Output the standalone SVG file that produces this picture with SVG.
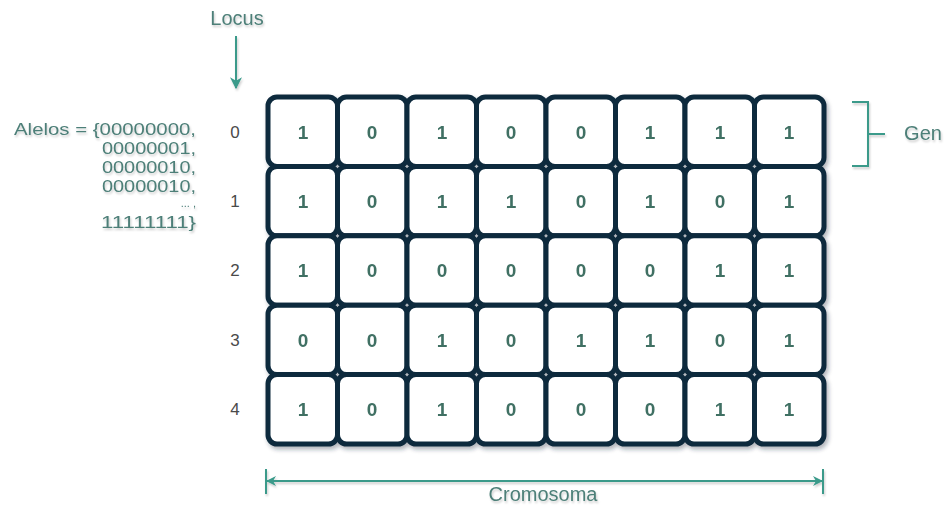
<svg xmlns="http://www.w3.org/2000/svg" width="947" height="505" viewBox="0 0 947 505">
<defs>
<filter id="sh" x="-10%" y="-10%" width="130%" height="130%"><feDropShadow dx="2" dy="3" stdDeviation="2" flood-color="#1a2a3a" flood-opacity="0.35"/></filter>
<filter id="tsh" x="-10%" y="-20%" width="130%" height="150%"><feDropShadow dx="1" dy="2" stdDeviation="1.2" flood-color="#000" flood-opacity="0.2"/></filter>
<marker id="ah" viewBox="0 0 10 10" refX="9" refY="5" markerWidth="10" markerHeight="10" markerUnits="userSpaceOnUse" orient="auto-start-reverse"><path d="M0,0 L10,5 L0,10 L3,5 Z" fill="#3a9a8a"/></marker>
<marker id="ah2" viewBox="0 0 10 10" refX="9" refY="5" markerWidth="12" markerHeight="12" markerUnits="userSpaceOnUse" orient="auto"><path d="M0,0 L10,5 L0,10 L3,5 Z" fill="#3a9a8a"/></marker>
</defs>
<style>
.cell rect{fill:#fff;stroke:#0f2a3d;stroke-width:5}
.cell text{font-family:"Liberation Sans",Arial,sans-serif;font-weight:bold;font-size:19px;fill:#3f6f63;text-anchor:middle}
.idx{font-family:"Liberation Sans",Arial,sans-serif;font-size:17px;fill:#4a4a4a;text-anchor:middle}
.lbl{font-family:"Liberation Sans",Arial,sans-serif;font-size:20px;fill:#4d7f78}
.al{font-size:17px}
.con{stroke:#3a9a8a;stroke-width:2;fill:none}
</style>
<rect width="947" height="505" fill="#fff"/>
<g id="labels" filter="url(#tsh)">
<text class="lbl" x="237" y="25" text-anchor="middle" font-size="19">Locus</text>
<text class="lbl" x="923" y="140" text-anchor="middle">Gen</text>
<text class="lbl" x="543" y="501" text-anchor="middle">Cromosoma</text>
<g id="alelos" class="lbl al" text-anchor="end">
<text x="196" y="135" textLength="182" lengthAdjust="spacingAndGlyphs">Alelos = {00000000,</text>
<text x="196" y="154" textLength="94" lengthAdjust="spacingAndGlyphs">00000001,</text>
<text x="196" y="173" textLength="94" lengthAdjust="spacingAndGlyphs">00000010,</text>
<text x="196" y="192" textLength="94" lengthAdjust="spacingAndGlyphs">00000010,</text>
<text x="196" y="207" font-size="11">... ,</text>
<text x="196" y="228" textLength="95" lengthAdjust="spacingAndGlyphs">11111111}</text>
</g>
</g>
<g id="indices">
<text class="idx" x="235" y="138">0</text>
<text class="idx" x="235" y="207">1</text>
<text class="idx" x="235" y="276">2</text>
<text class="idx" x="235" y="346">3</text>
<text class="idx" x="235" y="415">4</text>
</g>
<g id="grid" filter="url(#sh)">
<g id="r0" class="cell">
<rect x="268" y="97" width="69.5" height="69.4" rx="9"/><rect x="337.5" y="97" width="69.5" height="69.4" rx="9"/><rect x="407" y="97" width="69.5" height="69.4" rx="9"/><rect x="476.5" y="97" width="69.5" height="69.4" rx="9"/><rect x="546" y="97" width="69.5" height="69.4" rx="9"/><rect x="615.5" y="97" width="69.5" height="69.4" rx="9"/><rect x="685" y="97" width="69.5" height="69.4" rx="9"/><rect x="754.5" y="97" width="69.5" height="69.4" rx="9"/>
<text x="303" y="139">1</text><text x="372" y="139">0</text><text x="442" y="139">1</text><text x="511" y="139">0</text><text x="581" y="139">0</text><text x="650" y="139">1</text><text x="720" y="139">1</text><text x="789" y="139">1</text>
</g>
<g id="r1" class="cell">
<rect x="268" y="166.4" width="69.5" height="69.4" rx="9"/><rect x="337.5" y="166.4" width="69.5" height="69.4" rx="9"/><rect x="407" y="166.4" width="69.5" height="69.4" rx="9"/><rect x="476.5" y="166.4" width="69.5" height="69.4" rx="9"/><rect x="546" y="166.4" width="69.5" height="69.4" rx="9"/><rect x="615.5" y="166.4" width="69.5" height="69.4" rx="9"/><rect x="685" y="166.4" width="69.5" height="69.4" rx="9"/><rect x="754.5" y="166.4" width="69.5" height="69.4" rx="9"/>
<text x="303" y="208">1</text><text x="372" y="208">0</text><text x="442" y="208">1</text><text x="511" y="208">1</text><text x="581" y="208">0</text><text x="650" y="208">1</text><text x="720" y="208">0</text><text x="789" y="208">1</text>
</g>
<g id="r2" class="cell">
<rect x="268" y="235.8" width="69.5" height="69.4" rx="9"/><rect x="337.5" y="235.8" width="69.5" height="69.4" rx="9"/><rect x="407" y="235.8" width="69.5" height="69.4" rx="9"/><rect x="476.5" y="235.8" width="69.5" height="69.4" rx="9"/><rect x="546" y="235.8" width="69.5" height="69.4" rx="9"/><rect x="615.5" y="235.8" width="69.5" height="69.4" rx="9"/><rect x="685" y="235.8" width="69.5" height="69.4" rx="9"/><rect x="754.5" y="235.8" width="69.5" height="69.4" rx="9"/>
<text x="303" y="277">1</text><text x="372" y="277">0</text><text x="442" y="277">0</text><text x="511" y="277">0</text><text x="581" y="277">0</text><text x="650" y="277">0</text><text x="720" y="277">1</text><text x="789" y="277">1</text>
</g>
<g id="r3" class="cell">
<rect x="268" y="305.2" width="69.5" height="69.4" rx="9"/><rect x="337.5" y="305.2" width="69.5" height="69.4" rx="9"/><rect x="407" y="305.2" width="69.5" height="69.4" rx="9"/><rect x="476.5" y="305.2" width="69.5" height="69.4" rx="9"/><rect x="546" y="305.2" width="69.5" height="69.4" rx="9"/><rect x="615.5" y="305.2" width="69.5" height="69.4" rx="9"/><rect x="685" y="305.2" width="69.5" height="69.4" rx="9"/><rect x="754.5" y="305.2" width="69.5" height="69.4" rx="9"/>
<text x="303" y="347">0</text><text x="372" y="347">0</text><text x="442" y="347">1</text><text x="511" y="347">0</text><text x="581" y="347">1</text><text x="650" y="347">1</text><text x="720" y="347">0</text><text x="789" y="347">1</text>
</g>
<g id="r4" class="cell">
<rect x="268" y="374.6" width="69.5" height="69.4" rx="9"/><rect x="337.5" y="374.6" width="69.5" height="69.4" rx="9"/><rect x="407" y="374.6" width="69.5" height="69.4" rx="9"/><rect x="476.5" y="374.6" width="69.5" height="69.4" rx="9"/><rect x="546" y="374.6" width="69.5" height="69.4" rx="9"/><rect x="615.5" y="374.6" width="69.5" height="69.4" rx="9"/><rect x="685" y="374.6" width="69.5" height="69.4" rx="9"/><rect x="754.5" y="374.6" width="69.5" height="69.4" rx="9"/>
<text x="303" y="416">1</text><text x="372" y="416">0</text><text x="442" y="416">1</text><text x="511" y="416">0</text><text x="581" y="416">0</text><text x="650" y="416">0</text><text x="720" y="416">1</text><text x="789" y="416">1</text>
</g>
</g>
<g id="connectors" filter="url(#tsh)">
<path class="con" d="M236,36 V88" marker-end="url(#ah2)"/>
<path class="con" d="M852,102 H868 V166 H852 M868,134 H885"/>
<path class="con" d="M266,469 V494 M823,469 V494"/>
<path class="con" d="M267,481 H822" marker-start="url(#ah)" marker-end="url(#ah)"/>
</g>
</svg>
